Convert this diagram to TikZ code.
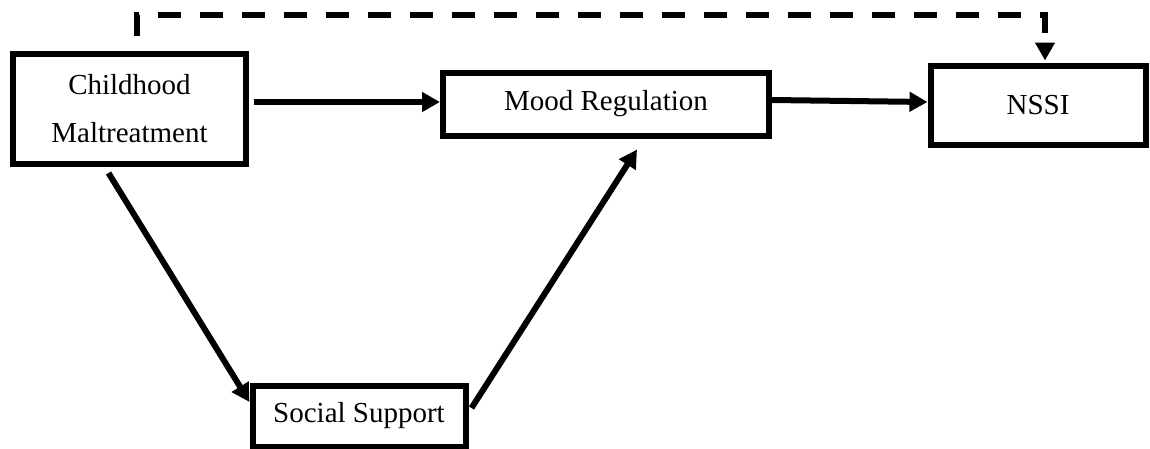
\documentclass[tikz,border=0pt]{standalone}
\usepackage{fontspec}
\setmainfont{Liberation Serif}
\usetikzlibrary{arrows.meta}
\tikzset{
  box/.style={draw=black, line width=6pt, rectangle, inner sep=0pt, align=center,
    font=\fontsize{29}{48}\selectfont},
  arr/.style={line width=6pt, -{Triangle[length=18pt,width=19pt]}},
  dsh/.style={line width=6pt, dash pattern=on 23pt off 19pt, -{Triangle[length=18pt,width=19pt]}}
}
\begin{document}
\begin{tikzpicture}[x=1pt,y=-1pt]
\useasboundingbox (0,0) rectangle (1150,448);
\node[box, minimum width=233pt, minimum height=110pt] (C) at (129.5,109) {Childhood\\Maltreatment};
\node[box, minimum width=326pt, minimum height=63pt] (M) at (606,104) {Mood Regulation};
\node[box, minimum width=215pt, minimum height=79pt] (N) at (1038,105) {NSSI};
\node[box, minimum width=213pt, minimum height=61pt] (S) at (359,416) {Social Support};
\coordinate (d0) at (137,36);
\coordinate (top) at (1045,15);
\coordinate (nt) at ([xshift=7pt,yshift=2pt]N.north);
\draw[arr] ([xshift=5pt,yshift=7pt]C.east) -- ([yshift=2pt]M.west);
\draw[arr] ([yshift=4pt]M.east) -- ([yshift=3pt]N.west);
\draw[arr] ([xshift=-21pt,yshift=-6pt]C.south) -- ([yshift=14pt]S.west);
\draw[arr] ([xshift=3pt,yshift=8pt]S.east) -- ([xshift=31pt,yshift=-11pt]M.south);
\draw[dsh] (d0) |- (top) -- (nt);
\end{tikzpicture}
\end{document}
